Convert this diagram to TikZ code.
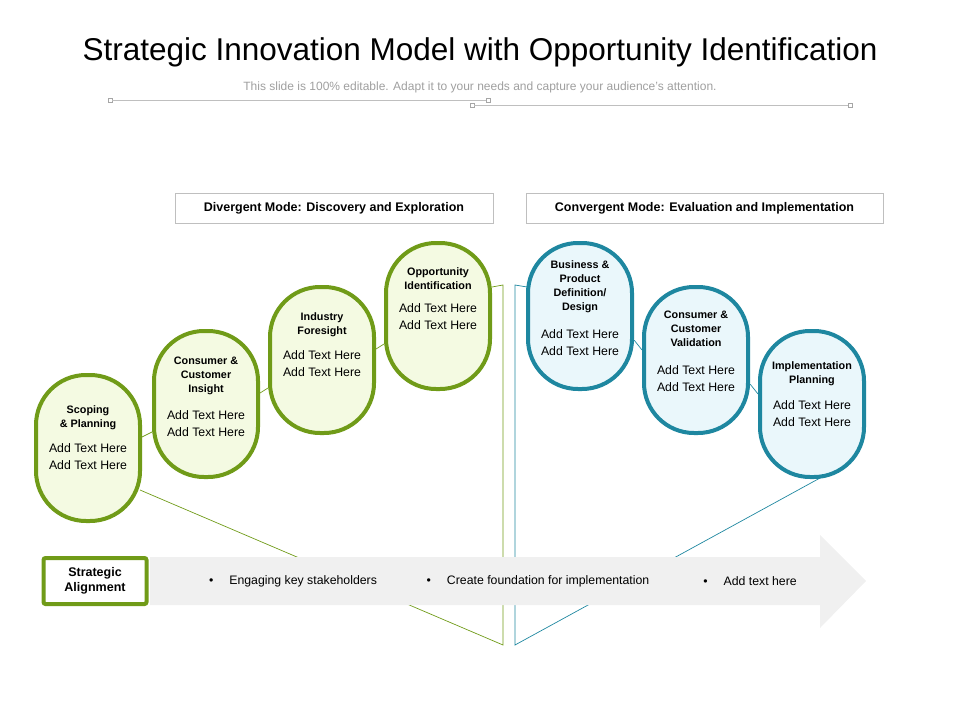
\documentclass[tikz,border=0pt]{standalone}
\usepackage{fontspec}
\setmainfont{Liberation Sans}
\begin{document}
\begin{tikzpicture}[x=1pt,y=-1pt,
  pill/.style={rounded corners=50pt, minimum width=104pt, minimum height=146pt, line width=4pt, align=center, anchor=center, inner sep=0pt},
  gpill/.style={pill, draw={rgb,255:red,112;green,155;blue,24}, fill={rgb,255:red,244;green,250;blue,226}},
  tpill/.style={pill, draw={rgb,255:red,30;green,135;blue,160}, fill={rgb,255:red,234;green,247;blue,251}},
  gline/.style={draw={rgb,255:red,112;green,155;blue,24}, line width=0.7pt},
  tline/.style={draw={rgb,255:red,30;green,135;blue,160}, line width=0.7pt},
  hbox/.style={draw=gray!50, line width=0.6pt, minimum height=30pt, font=\bfseries\fontsize{12.5}{14}\selectfont, inner sep=0pt},
  sq/.style={draw=gray!70, fill=white, minimum size=4pt, inner sep=0pt, line width=0.4pt},
  body/.style={font=\fontsize{12.3}{17}\selectfont},
  ttl/.style={font=\bfseries\fontsize{10.8}{14}\selectfont},
  bul/.style={font=\fontsize{12.3}{14}\selectfont}
]
\useasboundingbox (0,0) rectangle (960,720);
\node (title) at (480,52) {\fontsize{31.5}{36}\selectfont Strategic Innovation Model with Opportunity Identification};
\node[text=gray!75] (sub) at (480,87) {\fontsize{12}{14}\selectfont This slide is 100\% editable. Adapt it to your needs and capture your audience's attention.};
\node[sq] (s1) at (110,100) {}; \node[sq] (s2) at (488,100) {};
\node[sq] (s3) at (472,105) {}; \node[sq] (s4) at (850,105) {};
\draw[gray!50, line width=0.6pt] (s1) -- (s2); \draw[gray!50, line width=0.6pt] (s3) -- (s4);

\node[hbox, minimum width=318pt] (div) at (334,208) {Divergent Mode: Discovery and Exploration};
\node[hbox, minimum width=357pt] (conv) at (704.5,208) {Convergent Mode: Evaluation and Implementation};

% funnel lines
\coordinate (gb) at (503,645); \coordinate (gt) at (503,285);
\coordinate (tb) at (515,645); \coordinate (tt) at (515,285);
\coordinate (gs) at (140,490); \coordinate (ts) at (820,478);
\draw[gline] (gs) -- (gb) -- (gt) -- (492,287);
\draw[tline] (ts) -- (tb) -- (tt) -- (527,287);

% arrow band
\fill[gray!12] (150,557) -- (820,557) -- (820,535) -- (866,581) -- (820,628) -- (820,605) -- (150,605) -- cycle;
\node[draw={rgb,255:red,112;green,155;blue,24}, line width=4pt, fill=white, rounded corners=2pt, minimum width=103pt, minimum height=46pt, align=center, font=\bfseries\fontsize{12.5}{15}\selectfont] (sa) at (95,581) {Strategic\\Alignment};
\node[bul] (b1) at (293,581) {\textbullet\hspace{16pt}Engaging key stakeholders};
\node[bul] (b2) at (538,581) {\textbullet\hspace{16pt}Create foundation for implementation};
\node[bul] (b3) at (750,581) {\textbullet\hspace{16pt}Add text here};

% pills
\node[gpill] (p1) at (88,448) {};
\node[gpill] (p2) at (206,404) {};
\node[gpill] (p3) at (322,360) {};
\node[gpill] (p4) at (438,316) {};
\node[tpill] (p5) at (580,316) {};
\node[tpill] (p6) at (696,360) {};
\node[tpill] (p7) at (812,404) {};
\draw[gline] ([yshift=11pt]p1.east) -- ([yshift=-28pt]p2.west);
\draw[gline] ([yshift=11pt]p2.east) -- ([yshift=-28pt]p3.west);
\draw[gline] ([yshift=11pt]p3.east) -- ([yshift=-28pt]p4.west);
\draw[tline] ([yshift=-24pt]p5.east) -- ([yshift=10pt]p6.west);
\draw[tline] ([yshift=-24pt]p6.east) -- ([yshift=10pt]p7.west);

\node[ttl, align=center] (t1) at (88,418) {Scoping\\\& Planning};
\node[body, align=center] (x1) at (88,457) {Add Text Here\\Add Text Here};
\node[ttl, align=center] (t2) at (206,376) {Consumer \&\\Customer\\Insight};
\node[body, align=center] (x2) at (206,424) {Add Text Here\\Add Text Here};
\node[ttl, align=center] (t3) at (322,325) {Industry\\Foresight};
\node[body, align=center] (x3) at (322,364) {Add Text Here\\Add Text Here};
\node[ttl, align=center] (t4) at (438,279) {Opportunity\\Identification};
\node[body, align=center] (x4) at (438,317) {Add Text Here\\Add Text Here};
\node[ttl, align=center] (t5) at (580,287) {Business \&\\Product\\Definition/\\Design};
\node[body, align=center] (x5) at (580,343) {Add Text Here\\Add Text Here};
\node[ttl, align=center] (t6) at (696,329) {Consumer \&\\Customer\\Validation};
\node[body, align=center] (x6) at (696,379) {Add Text Here\\Add Text Here};
\node[ttl, align=center] (t7) at (812,374) {Implementation\\Planning};
\node[body, align=center] (x7) at (812,414) {Add Text Here\\Add Text Here};
\end{tikzpicture}
\end{document}
